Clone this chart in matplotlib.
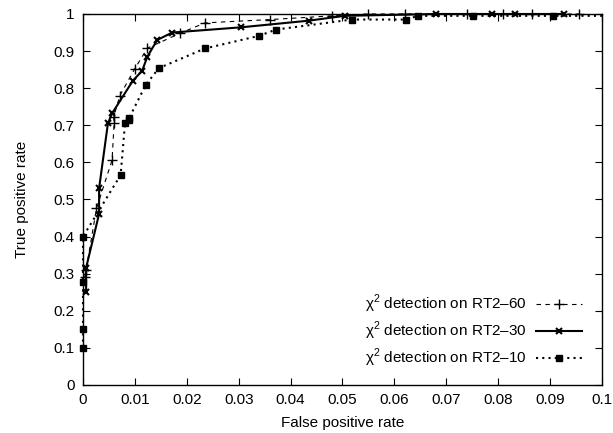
import numpy as np
import matplotlib
matplotlib.use("Agg")
import matplotlib.pyplot as plt

plt.rcParams['font.family'] = ['Liberation Sans', 'DejaVu Sans']
plt.rcParams['mathtext.fontset'] = 'custom'
plt.rcParams['mathtext.rm'] = 'Liberation Sans'

# --- data ---
FPR_60 = [0.0003, 0.0006, 0.0026, 0.0056, 0.0060, 0.0059, 0.0071, 0.0100, 0.0124,
          0.0187, 0.0235, 0.0361, 0.0480, 0.0550, 0.0620, 0.0740, 0.0810, 0.0866, 0.0956]
TPR_60 = [0.29, 0.31, 0.476, 0.606, 0.707, 0.722, 0.78, 0.853, 0.908,
          0.948, 0.976, 0.985, 0.995, 1.0, 1.0, 1.0, 1.0, 1.0, 1.0]

FPR_30 = [0.0006, 0.0006, 0.0031, 0.0031, 0.0048, 0.0056, 0.0096, 0.0114, 0.0124,
          0.0143, 0.0172, 0.0304, 0.0435, 0.0504, 0.0681, 0.0789, 0.0833, 0.0926]
TPR_30 = [0.25, 0.316, 0.461, 0.53, 0.705, 0.732, 0.82, 0.847, 0.885,
          0.93, 0.95, 0.964, 0.982, 0.995, 1.0, 1.0, 1.0, 1.0]

FPR_10 = [0.0, 0.0, 0.0, 0.0, 0.00725, 0.0081, 0.0088, 0.0089, 0.0121, 0.0146,
          0.0235, 0.0339, 0.0372, 0.0518, 0.0622, 0.0646, 0.0752, 0.0906, 0.1]
TPR_10 = [0.10, 0.15, 0.277, 0.40, 0.566, 0.706, 0.713, 0.72, 0.809, 0.854,
          0.907, 0.941, 0.958, 0.985, 0.985, 0.995, 0.995, 0.995, 0.995]

LABELS = ['χ$^2$ detection on RT2–60',
          'χ$^2$ detection on RT2–30',
          'χ$^2$ detection on RT2–10']

X_TICKS = np.arange(0, 0.1001, 0.01)
Y_TICKS = np.arange(0, 1.001, 0.1)

FS = 11

fig = plt.figure(figsize=(6.13, 4.33), dpi=100)
ax = fig.add_axes([0.1354, 0.1109, 0.8466, 0.8568])

ax.plot(FPR_60, TPR_60, color='black', linestyle=(0, (4, 4)), linewidth=0.8,
        marker='+', markersize=7, markeredgewidth=1.0, label=LABELS[0], clip_on=False)
ax.plot(FPR_30, TPR_30, color='black', linestyle='-', linewidth=1.5,
        marker='x', markersize=5, markeredgewidth=1.5, label=LABELS[1], clip_on=False)
ax.plot(FPR_10, TPR_10, color='black', linestyle=(0, (1, 2)), linewidth=1.5,
        marker='s', markersize=4, markevery=list(range(len(FPR_10) - 1)),
        label=LABELS[2], clip_on=False)

ax.set_xlim(0, 0.1)
ax.set_ylim(0, 1)
ax.set_xticks(X_TICKS)
ax.set_yticks(Y_TICKS)
ax.set_xticklabels(['0'] + [f'{v:.2f}' for v in X_TICKS[1:-1]] + ['0.1'])
ax.set_yticklabels(['0'] + [f'{v:.1f}' for v in Y_TICKS[1:-1]] + ['1'])
ax.tick_params(direction='in', top=True, right=True, length=5, width=0.8,
               labelsize=FS, pad=6)
for sp in ax.spines.values():
    sp.set_linewidth(1.0)

ax.set_xlabel('False positive rate', fontsize=FS, labelpad=6)
ax.set_ylabel('True positive rate', fontsize=FS, labelpad=18)

ax.legend(loc='lower right', bbox_to_anchor=(0.962, 0.043), frameon=False,
          markerfirst=False, handlelength=3.0, fontsize=FS, labelspacing=0.3,
          borderpad=0, borderaxespad=0, handletextpad=0.6)

fig.savefig('out.png', dpi=100)
plt.close(fig)
